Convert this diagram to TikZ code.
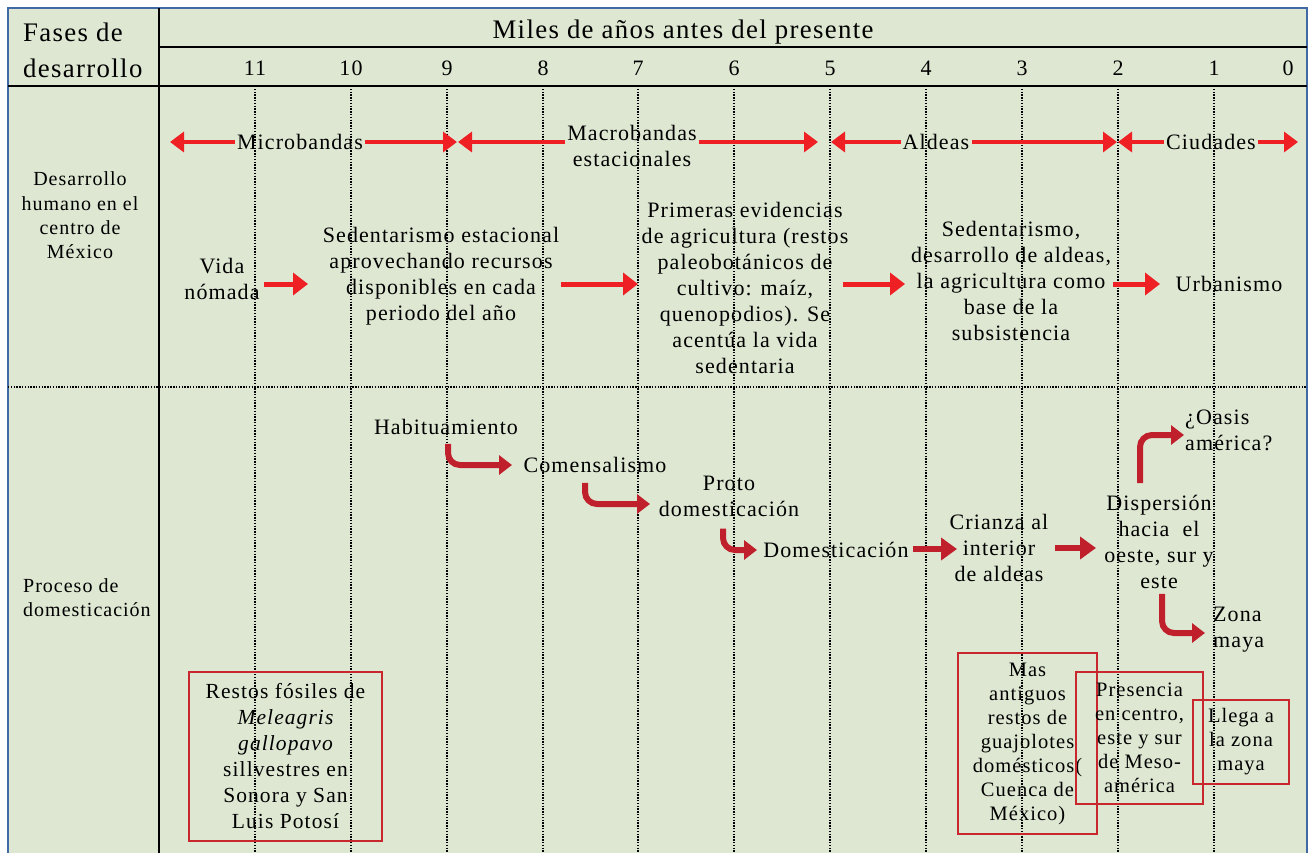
\documentclass[tikz,border=0pt]{standalone}
\usepackage{fontspec}
\setmainfont[LetterSpace=5]{Liberation Serif}
\usetikzlibrary{arrows.meta,calc}

\definecolor{bgsage}{RGB}{222,231,210}
\definecolor{frameblue}{RGB}{65,105,165}
\definecolor{brightred}{RGB}{238,32,36}
\definecolor{deepred}{RGB}{192,32,44}
\definecolor{boxred}{RGB}{200,40,45}

\tikzset{
  hdrtext/.style={inner sep=2pt, font=\fontsize{26.8}{36}\selectfont},
  numtext/.style={inner sep=1pt, font=\fontsize{22}{26}\selectfont},
  lbltext/.style={inner sep=2pt, align=center, font=\fontsize{20}{24.3}\selectfont},
  bodytext/.style={inner sep=2pt, align=center, font=\fontsize{22}{26}\selectfont},
  boxtext/.style={inner sep=2pt, align=center, font=\fontsize{21.5}{26}\selectfont},
  smalltext/.style={inner sep=2pt, align=center, font=\fontsize{20.5}{24}\selectfont},
  fossilbox/.style={draw=boxred, line width=1.8pt, align=center},
  tablerule/.style={black, line width=2.6pt},
  timegrid/.style={black, line width=1.3pt, dash pattern=on 1.4pt off 1.4pt},
  spanarrow/.style={draw=brightred, line width=4.5pt, -{Triangle[length=14pt,width=20pt]}},
  flowarrow/.style={draw=brightred, line width=5pt, -{Triangle[length=15pt,width=22pt]}},
  pusharrow/.style={draw=deepred, line width=5.5pt, -{Triangle[length=16pt,width=22pt]}},
  bentarrow/.style={draw=deepred, line width=6pt, rounded corners=12pt, -{Triangle[length=13pt,width=19pt]}},
}

\begin{document}
\begin{tikzpicture}[x=1pt, y=-1pt]
  \useasboundingbox (0,0) rectangle (1311,853);
  \fill[white] (0,0) rectangle (1311,853);
  \fill[bgsage] (8,8) rectangle (1307,853);
  \draw[frameblue, line width=2.5pt] (8,853) -- (8,8) -- (1307,8) -- (1307,853);

  % table rules
  \coordinate (hrule) at (8,86);
  \coordinate (bot) at (8,853);
  \coordinate (rowsplit) at (8,387);
  \coordinate (rightedge) at (1307,86);
  \draw[tablerule] (159,8) -- (159,853);
  \draw[tablerule] (159,47) -- (1307,47);
  \draw[tablerule] (hrule) -- (rightedge);

  % header
  \node[hdrtext, align=left, anchor=west] (fases) at (21,50) {Fases de\\desarrollo};
  \node[hdrtext] (miles) at (683,32) {Miles de años antes del presente};
  \foreach \v/\x in {11/255,10/351,9/447,8/543,7/638,6/734,5/830,4/926,3/1022,2/1118,1/1214,0/1288}
    \node[numtext] (n\v) at (\x,68) {\v};

  % dotted time grid
  \foreach \v in {11,10,...,1}
    \draw[timegrid] (n\v |- hrule) -- (n\v |- bot);
  \draw[timegrid] (rowsplit) -- (rowsplit -| rightedge);

  % row labels
  \node[lbltext] (human) at (80,215.5) {Desarrollo\\humano en el\\centro de\\México};
  \node[lbltext, align=left, anchor=west] (proc) at (21,598) {Proceso de\\domesticación};

  % ---- settlement phases ----
  \node[bodytext] (micro) at (300,142) {Microbandas};
  \node[bodytext] (macro) at (632,145.5) {Macrobandas\\estacionales};
  \node[bodytext] (aldeas) at (936,142) {Aldeas};
  \node[bodytext] (ciud) at (1211,142) {Ciudades};
  \coordinate (sA) at (170,142);
  \coordinate (sB) at (457,142);
  \coordinate (sC) at (458,142);
  \coordinate (sD) at (818,142);
  \coordinate (sE) at (831,142);
  \coordinate (sF) at (1117,142);
  \coordinate (sG) at (1118,142);
  \coordinate (sH) at (1298,142);
  \draw[spanarrow] (micro.west) -- (sA);
  \draw[spanarrow] (micro.east) -- (sB);
  \draw[spanarrow] (macro.west |- sC) -- (sC);
  \draw[spanarrow] (macro.east |- sD) -- (sD);
  \draw[spanarrow] (aldeas.west) -- (sE);
  \draw[spanarrow] (aldeas.east) -- (sF);
  \draw[spanarrow] (ciud.west) -- (sG);
  \draw[spanarrow] (ciud.east) -- (sH);

  % ---- human development ----
  \node[bodytext] (vida) at (222,279) {Vida\\nómada};
  \node[bodytext] (sedA) at (441,276.5) {Sedentarismo estacional\\aprovechando recursos\\disponibles en cada\\periodo del año};
  \node[bodytext] (prim) at (745,287.5) {Primeras evidencias\\de agricultura (restos\\paleobotánicos de\\cultivo: maíz,\\quenopodios). Se\\acentúa la vida\\sedentaria};
  \node[bodytext] (sedB) at (1011,280.5) {Sedentarismo,\\desarrollo de aldeas,\\la agricultura como\\base de la\\subsistencia};
  \node[bodytext] (urb) at (1229,284) {Urbanismo};
  \coordinate (fA) at (308,284);
  \coordinate (fB) at (638,284);
  \coordinate (fC) at (905,284);
  \coordinate (fD) at (1160,284);
  \draw[flowarrow] ($(vida.east |- fA)+(2,0)$) -- (fA);
  \draw[flowarrow] (sedA.east |- fB) -- (fB);
  \draw[flowarrow] ($(prim.east |- fC)+(-8,0)$) -- (fC);
  \draw[flowarrow] (sedB.east |- fD) -- (fD);

  % ---- domestication process ----
  \node[bodytext] (hab) at (446,427) {Habituamiento};
  \node[bodytext] (com) at (595,465) {Comensalismo};
  \node[bodytext] (proto) at (729,496) {Proto\\domesticación};
  \node[bodytext] (domes) at (836,550) {Domesticación};
  \node[bodytext] (crianza) at (999,547.5) {Crianza al\\interior\\de aldeas};
  \node[bodytext] (disp) at (1159,542) {Dispersión\\hacia~ el\\oeste, sur y\\este};
  \node[bodytext, align=left, anchor=west] (oasis) at (1183,430.5) {¿Oasis\\américa?};
  \node[bodytext, align=left, anchor=west] (zona) at (1211,630) {Zona\\maya};
  \coordinate (kA) at (512,465);
  \coordinate (kB) at (650,504);
  \coordinate (kC) at (757,550);
  \coordinate (kD) at (957,549);
  \coordinate (kE) at (1096,548);
  \coordinate (kF) at (1184,435);
  \coordinate (kG) at (1205,633);
  \draw[bentarrow] ($(hab.south)+(2,7)$) |- (kA);
  \draw[bentarrow] ($(com.south)+(-10,8)$) |- (kB);
  \draw[bentarrow] ($(proto.south)+(-6,10)$) |- (kC);
  \draw[pusharrow] ($(domes.east |- kD)+(2,0)$) -- (kD);
  \draw[pusharrow] ($(crianza.east |- kE)+(4,0)$) -- (kE);
  \draw[bentarrow] ($(disp.north)+(-19,-10)$) |- (kF);
  \draw[bentarrow] ($(disp.south)+(3,3)$) |- (kG);

  % ---- archaeological evidence ----
  \node[fossilbox, boxtext, minimum width=193pt, minimum height=169pt] (fos) at (285.5,756.5)
    {Restos fósiles de\\{\itshape Meleagris}\\{\itshape gallopavo}\\sillvestres en\\Sonora y San\\Luis Potosí};
  \node[fossilbox, smalltext, minimum width=139pt, minimum height=181pt] (cuenca) at (1027.5,743.5)
    {Mas\\antiguos\\restos de\\guajolotes\\domésticos(\\Cuenca de\\México)};
  \node[fossilbox, smalltext, minimum width=127pt, minimum height=132pt] (meso) at (1139.5,738)
    {Presencia\\en centro,\\este y sur\\de Meso-\\américa};
  \node[fossilbox, smalltext, minimum width=96pt, minimum height=84pt] (llega) at (1241,742)
    {Llega a\\la zona\\maya};
\end{tikzpicture}
\end{document}
